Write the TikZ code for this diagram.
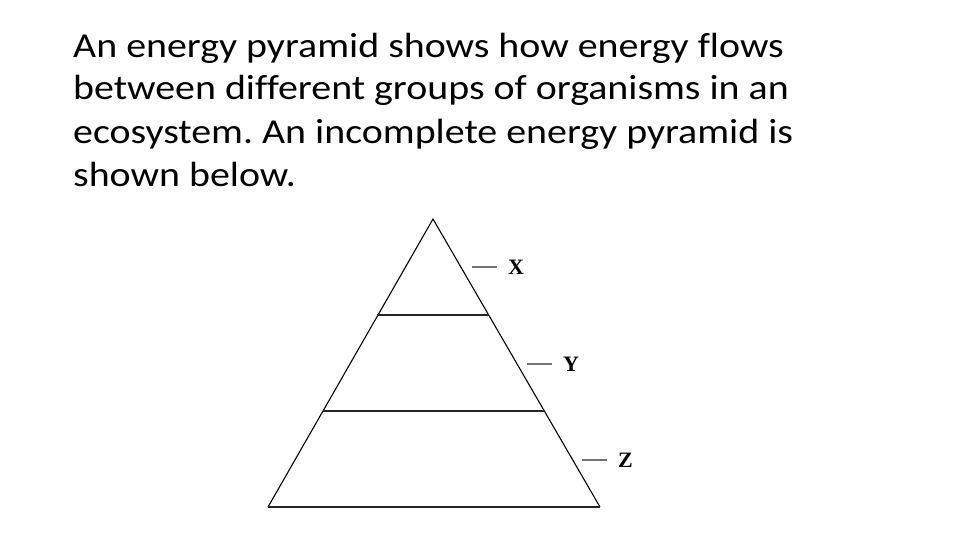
\documentclass[tikz,border=0pt]{standalone}
\usepackage{fontspec}
\setmainfont{Carlito}[FakeStretch=1.14, Ligatures=NoCommon]
\newfontfamily\labelfont{Liberation Serif}
\frenchspacing
\tikzset{
	level/.style={line width=1.8pt, draw=black!85},
	side/.style={line width=1.1pt},
	tick/.style={line width=1.4pt, draw=black!55},
	tag/.style={font=\labelfont\bfseries\fontsize{22}{22}\selectfont, inner sep=0pt, anchor=west}
}
\begin{document}
\begin{tikzpicture}[x=1pt,y=-1pt]
	\useasboundingbox[fill=white] (0,0) rectangle (960,540);

	% question text (baseline of the last line)
	\node[anchor=base west, align=left, inner sep=0pt, font=\fontsize{35}{43}\selectfont] (question) at (73,186)
		{An energy pyramid shows how energy flows\\
		 between different groups of organisms in an\\
		 ecosystem. An incomplete energy pyramid is\\
		 shown below.};

	% pyramid
	\coordinate (apex) at (433,219);
	\coordinate (baseL) at (268,507);
	\coordinate (baseR) at (600,507);
	\draw[side] (baseL) -- (apex) -- (baseR);
	\draw[level] (baseL) -- (baseR);

	% levels
	\draw[level] (377,315) -- (489,315);
	\draw[level] (323,411) -- (545,411);

	% labels
	\node[tag] (X) at (508,267) {X};
	\node[tag] (Y) at (563,364) {Y};
	\node[tag] (Z) at (618,460) {Z};
	\draw[tick] (472,267) -- ([xshift=-11pt]X.west);
	\draw[tick] (527,364) -- ([xshift=-11pt]Y.west);
	\draw[tick] (582,460) -- ([xshift=-11pt]Z.west);

\end{tikzpicture}
\end{document}
